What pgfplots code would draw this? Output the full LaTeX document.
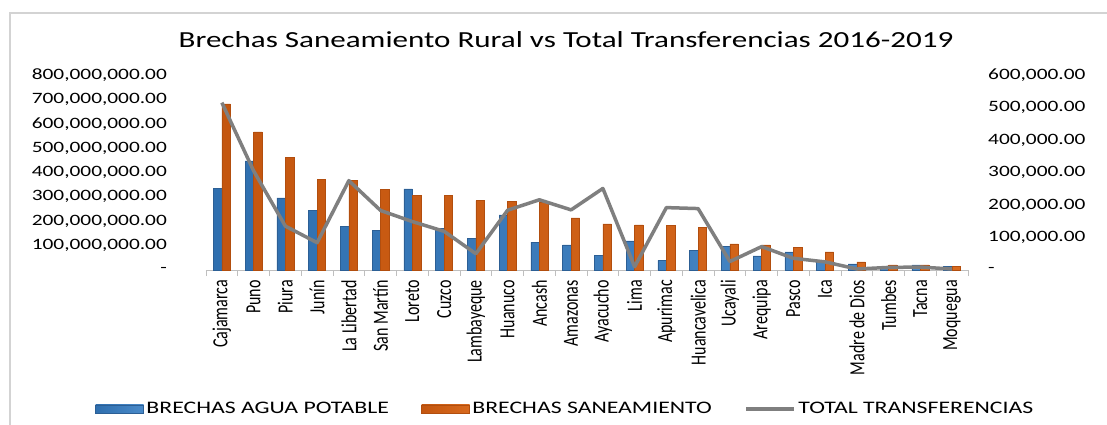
\documentclass[border=0pt]{standalone}
\usepackage{fontspec}
\setmainfont[FakeStretch=1.35]{Carlito}
\newfontfamily\cn{Carlito}
\usepackage{pgfplots}
\usepackage{pgfplotstable}
\pgfplotsset{compat=1.18}
\definecolor{bL}{HTML}{2F6FAF}
\definecolor{bM}{HTML}{6AA6DE}
\definecolor{bR}{HTML}{4A8AC9}
\definecolor{bD}{HTML}{2C5F95}
\definecolor{oL}{HTML}{C4560F}
\definecolor{oM}{HTML}{F2904E}
\definecolor{oR}{HTML}{D86A1E}
\definecolor{oD}{HTML}{B24E0E}
\definecolor{lgray}{HTML}{7F7F7F}
\definecolor{axgray}{HTML}{BFBFBF}
\definecolor{bordergray}{HTML}{D3D3D3}
\newcommand{\xl}[1]{\scalebox{1}[1.35]{#1}}
\pgfplotsset{
  barleg/.style={legend image code/.code={\draw[##1] (0pt,-4pt) rectangle (48pt,4pt);}},
  lineleg/.style={legend image code/.code={\draw[##1] (0pt,0pt) -- (48pt,0pt);}},
}
\pgfplotstableread{
idx blue orange total
0 335000000 682000000 515000
1 448000000 567000000 305000
2 296000000 463000000 135000
3 245000000 372000000 84000
4 179000000 368000000 275000
5 164000000 332000000 183000
6 333000000 305000000 149000
7 172000000 305000000 119000
8 131000000 285000000 50000
9 226000000 281000000 184000
10 114000000 280000000 216000
11 103000000 214000000 185000
12 61000000 189000000 251000
13 119000000 185000000 10000
14 40000000 182000000 192000
15 80000000 175000000 189000
16 96000000 107000000 26000
17 58000000 103000000 72000
18 74000000 92000000 36000
19 38000000 74000000 25000
20 25000000 33000000 3000
21 14000000 21000000 8000
22 21000000 21000000 9000
23 16000000 15000000 3000
}\data
\begin{document}
\begin{tikzpicture}
\path[use as bounding box] (-206pt,-155pt) rectangle (901pt,270pt);
\draw[bordergray, line width=2pt] (-196pt,-160pt) -- (-196pt,257pt) -- (905pt,257pt);
\begin{axis}[
  width=762pt, height=195pt, scale only axis,
  xmin=-0.5, xmax=23.5, ymin=0, ymax=800000000,
  scaled y ticks=false,
  axis x line*=bottom, axis y line*=left,
  y axis line style={draw=none},
  x axis line style={draw=axgray, line width=0.9pt},
  major tick length=0pt,
  minor tick length=6pt,
  tick align=outside,
  xtick={0,...,23},
  xticklabels={\xl{Cajamarca},\xl{Puno},\xl{Piura},\xl{Junín},\xl{La Libertad},\xl{San Martín},\xl{Loreto},\xl{Cuzco},\xl{Lambayeque},\xl{Huanuco},\xl{Ancash},\xl{Amazonas},\xl{Ayacucho},\xl{Lima},\xl{Apurimac},\xl{Huancavelica},\xl{Ucayali},\xl{Arequipa},\xl{Pasco},\xl{Ica},\xl{Madre de Dios},\xl{Tumbes},\xl{Tacna},\xl{Moquegua}},
  xticklabel style={rotate=90, anchor=east, inner sep=0pt, xshift=-10pt, font=\cn\fontsize{16}{19}\selectfont},
  minor xtick={-0.5,0.5,...,23.5},
  minor x tick style={draw=axgray, line width=0.9pt},
  major x tick style={draw=none},
  ytick={0,100000000,200000000,300000000,400000000,500000000,600000000,700000000,800000000},
  yticklabels={{-\hspace{5pt}},{100,000,000.00},{200,000,000.00},{300,000,000.00},{400,000,000.00},{500,000,000.00},{600,000,000.00},{700,000,000.00},{800,000,000.00}},
  yticklabel style={anchor=east, inner sep=0pt, xshift=-39pt, font=\fontsize{15.8}{18}\selectfont},
  major y tick style={draw=none},
  legend style={draw=none, fill=none, at={(0.472,-0.712)}, anchor=center,
    legend columns=3, font=\fontsize{17.6}{20}\selectfont,
    /tikz/every even column/.append style={column sep=30pt},
    nodes={inner sep=2.5pt}},
  clip=false,
]
\addplot[ybar, bar width=0.27, bar shift=-0.135, draw=bD, line width=0.5pt, left color=bL, middle color=bM, right color=bR, barleg]
  table[x=idx, y=blue]{\data};
\addlegendentry{BRECHAS AGUA POTABLE}
\addplot[ybar, bar width=0.27, bar shift=0.135, draw=oD, line width=0.5pt, left color=oL, middle color=oM, right color=oR, barleg]
  table[x=idx, y=orange]{\data};
\addlegendentry{BRECHAS SANEAMIENTO}
\addlegendimage{lgray, line width=3.5pt, lineleg}
\addlegendentry{TOTAL TRANSFERENCIAS}
\end{axis}
\begin{axis}[
  width=762pt, height=195pt, scale only axis,
  xmin=-0.5, xmax=23.5, ymin=0, ymax=600000,
  scaled y ticks=false,
  axis x line=none, axis y line*=right,
  y axis line style={draw=none},
  major tick length=0pt,
  ytick={0,100000,200000,300000,400000,500000,600000},
  yticklabels={{-},{100,000.00},{200,000.00},{300,000.00},{400,000.00},{500,000.00},{600,000.00}},
  yticklabel style={anchor=west, inner sep=0pt, xshift=20pt, font=\fontsize{15.8}{18}\selectfont},
  major y tick style={draw=none},
  clip=false,
]
\addplot[lgray, line width=3.5pt, no marks, line join=round] table[x=idx, y=total]{\data};
\end{axis}
\node[anchor=base, inner sep=0pt, font=\fontsize{23}{27}\selectfont] at (360pt,222pt) {Brechas Saneamiento Rural vs Total Transferencias 2016-2019};
\end{tikzpicture}
\end{document}
